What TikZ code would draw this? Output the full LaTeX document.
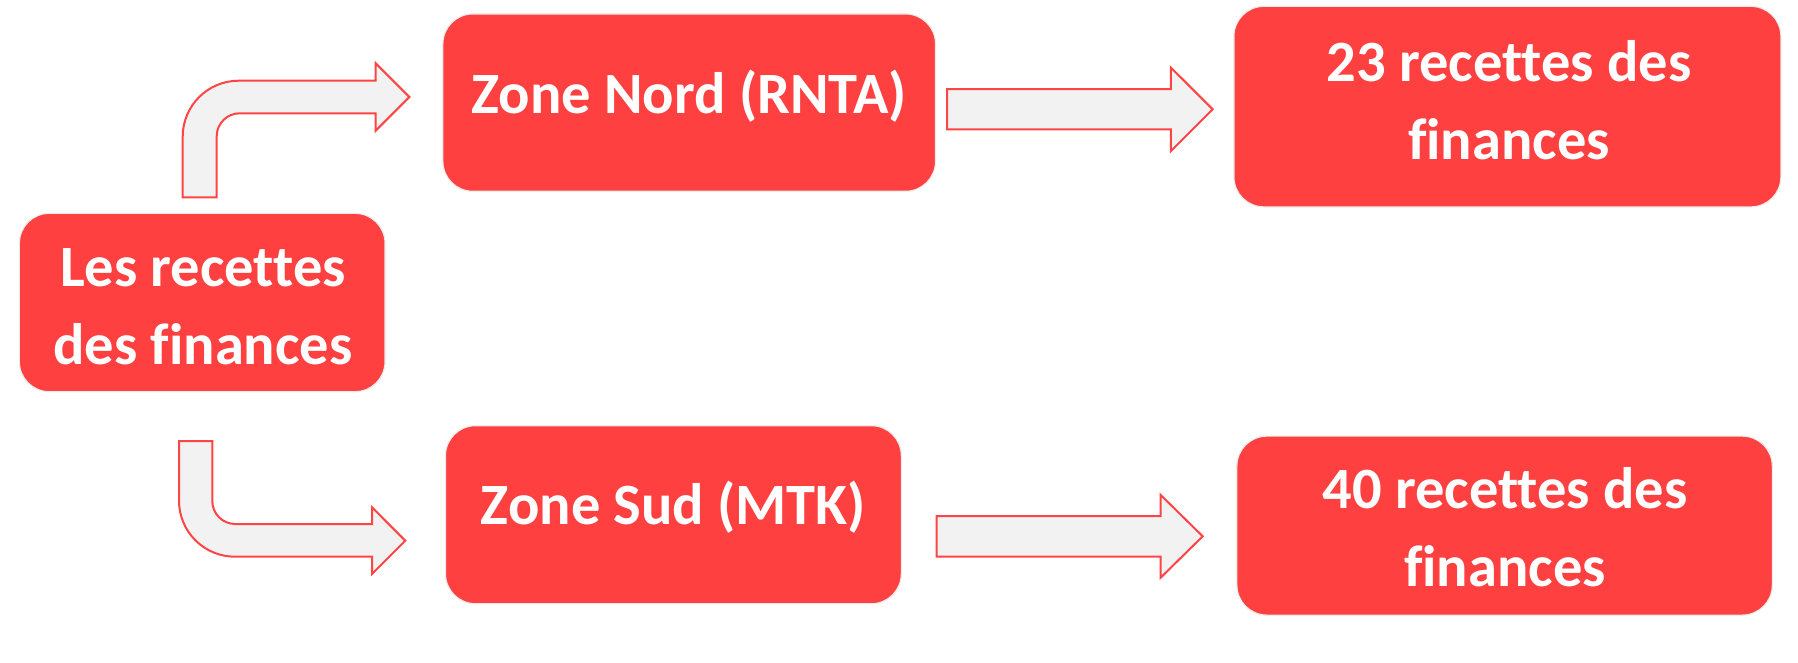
\documentclass[tikz,border=0pt]{standalone}
\usepackage{fontspec}
\setmainfont{Carlito}[Ligatures=NoCommon]
\definecolor{boxred}{RGB}{255,64,64}
\definecolor{arrowfill}{RGB}{242,242,242}
\definecolor{arrowline}{RGB}{255,68,68}
\definecolor{boxedge}{RGB}{236,236,236}
\begin{document}
\begin{tikzpicture}[x=1pt,y=1pt,
  redbox/.style={draw=boxedge, line width=1.2pt, fill=boxred, rounded corners=30pt, inner sep=0pt},
  boxtext/.style={text=white, font=\fontsize{58.5}{78}\selectfont\bfseries, align=center, inner sep=0pt},
  blockarrow/.style={fill=arrowfill, draw=arrowline, line width=2pt, line join=miter}]
\fill[white] (0,0) rectangle (1798,-662);
\useasboundingbox (0,0) rectangle (1798,-662);

% boxes
\node[redbox, minimum width=365.7pt, minimum height=178.4pt] (src) at (202.2,-302.5) {};
\node[redbox, minimum width=492.7pt, minimum height=177.4pt] (nord) at (689.2,-102.6) {};
\node[redbox, minimum width=455.9pt, minimum height=178.1pt] (sud) at (673.4,-514.7) {};
\node[redbox, minimum width=547pt, minimum height=200.6pt] (n23) at (1507.4,-106.6) {};
\node[redbox, minimum width=535.5pt, minimum height=179pt] (n40) at (1504.6,-525.6) {};

% texts
\node[boxtext] (srct) at (203,-306.5) {Les recettes\\des finances};
\node[boxtext] (nordt) at (689.2,-96) {Zone Nord (RNTA)};
\node[boxtext] (sudt) at (673.4,-507.7) {Zone Sud (MTK)};
\node[boxtext] (n23t) at (1509,-100.5) {23 recettes des\\finances};
\node[boxtext] (n40t) at (1505,-527) {40 recettes des\\finances};

% bent arrow up
\draw[blockarrow] (182.7,-197.3) -- (182.7,-136.7)
  arc[start angle=180, end angle=90, radius=56pt] -- (375.7,-80.7)
  -- (375.7,-63.3) -- (409.4,-97) -- (375.7,-130.7) -- (375.7,-113.3)
  -- (239.7,-113.3) arc[start angle=90, end angle=180, radius=23pt]
  -- (216.7,-197.3) -- cycle;

% bent arrow down
\draw[blockarrow] (179,-441) -- (179,-500.7)
  arc[start angle=180, end angle=270, radius=56pt] -- (372,-556.7)
  -- (372,-574) -- (405.3,-540.7) -- (372,-507.3) -- (372,-524)
  -- (235.3,-524) arc[start angle=270, end angle=180, radius=23pt]
  -- (212.3,-441) -- cycle;

% straight arrows
\draw[blockarrow] (947,-89.2) -- (1170.8,-89.2) -- (1170.8,-67.5) -- (1212.7,-109.3)
  -- (1170.8,-151.1) -- (1170.8,-129.4) -- (947,-129.4) -- cycle;
\draw[blockarrow] (936.7,-516) -- (1160.7,-516) -- (1160.7,-495) -- (1202.7,-536.3)
  -- (1160.7,-577.6) -- (1160.7,-556.7) -- (936.7,-556.7) -- cycle;
\end{tikzpicture}
\end{document}
